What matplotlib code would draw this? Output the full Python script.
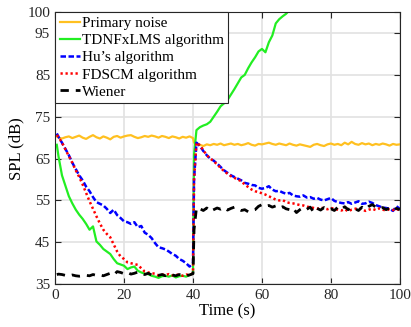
import numpy as np
import matplotlib.pyplot as plt

plt.rcParams['font.family'] = ['Liberation Serif', 'DejaVu Serif']

# time axis: 0.5 s, 1..40 s, a sample just after the path change, 41..100 s
time = np.concatenate([[0.5], np.arange(1, 41), [40.3], np.arange(41, 101)])

primary = [70.3, 70.0, 69.8, 70.1, 70.3, 69.9, 70.2, 70.5, 70.0, 69.7,
           70.2, 70.6, 70.1, 69.8, 70.3, 70.0, 69.6, 70.2, 70.4, 70.0,
           70.3, 70.5, 70.6, 70.2, 69.9, 70.1, 70.4, 70.2, 70.5, 70.3,
           70.0, 70.4, 70.2, 69.9, 70.3, 70.1, 69.8, 70.2, 70.0, 70.3, 69.9,
           68.8,
           68.5, 68.3, 68.0, 68.4, 68.2, 68.5, 68.3, 68.6, 68.2, 68.4,
           68.6, 68.3, 68.5, 68.2, 68.4, 68.7, 68.3, 68.1, 68.5, 68.4,
           68.6, 68.8, 68.5, 68.3, 68.6, 68.4, 68.2, 68.6, 68.3, 68.1,
           68.4, 68.2, 68.0, 67.8, 68.3, 68.5, 68.2, 68.0, 68.4, 68.6,
           68.3, 68.5, 68.2, 68.8, 68.4, 69.0, 68.5, 68.3, 68.7, 68.4,
           68.6, 68.2, 68.5, 68.3, 68.6, 68.4, 68.1, 68.5, 68.3, 68.4]

tdnfxlms = [68.3, 65.5, 61.0, 58.5, 56.0, 54.3, 52.8, 51.6, 50.6, 49.4,
            48.0, 48.8, 45.2, 44.4, 43.4, 42.8, 42.2, 41.0, 40.0, 39.7,
            39.4, 38.6, 39.0, 39.2, 38.2, 37.8, 37.5, 37.4, 37.0, 36.8,
            36.5, 36.9, 37.0, 36.8, 37.1, 36.6, 36.9, 37.0, 36.8, 37.2, 37.6,
            66.0,
            71.8, 72.5, 72.9, 73.2, 73.8, 75.0, 76.2, 77.5, 78.2, 79.0,
            80.3, 81.6, 83.0, 84.4, 85.0, 86.6, 88.0, 89.2, 90.6, 91.2,
            90.4, 92.8, 94.4, 97.3, 98.3, 99.0, 99.6, 100.5] + [np.nan] * 32

hu = [71.0, 70.2, 68.8, 67.3, 65.8, 64.0, 62.5, 61.0, 59.8, 58.3,
      57.2, 55.8, 54.6, 54.2, 53.8, 53.0, 52.0, 52.8, 51.5, 50.8,
      50.0, 49.8, 49.4, 49.8, 48.6, 48.9, 47.3, 46.8, 46.0, 44.8,
      43.8, 43.6, 43.3, 42.8, 42.2, 41.8, 41.0, 40.6, 40.0, 39.2, 40.0,
      60.0,
      68.8, 68.0, 66.8, 65.8, 65.0, 64.5, 63.8, 63.0, 62.2, 61.6,
      61.0, 60.6, 60.2, 59.8, 59.2, 59.0, 58.7, 58.6, 58.0, 57.8,
      58.0, 58.4, 57.6, 57.2, 57.3, 56.9, 56.6, 56.8, 56.2, 56.0,
      55.9, 56.2, 55.7, 55.8, 55.4, 55.6, 55.2, 55.0, 55.3, 55.6,
      54.9, 54.6, 54.4, 54.3, 54.6, 54.2, 54.5, 54.8, 54.2, 54.3,
      54.7, 54.4, 53.9, 53.6, 53.3, 53.2, 53.0, 52.5, 53.6, 53.0]

fdscm = [70.6, 70.2, 68.8, 67.2, 65.6, 64.0, 62.2, 60.6, 58.8, 56.8,
         54.8, 53.0, 51.2, 49.5, 48.0, 47.0, 46.2, 44.5, 42.8, 41.6,
         41.0, 40.2, 40.0, 39.8, 39.6, 38.8, 38.0, 37.8, 37.6, 37.5,
         37.1, 37.3, 37.2, 37.4, 37.1, 37.3, 37.2, 37.0, 37.3, 37.2, 37.6,
         60.0,
         68.8, 68.2, 67.0, 65.8, 65.0, 64.4, 63.6, 62.8, 62.0, 61.4,
         60.8, 60.4, 60.0, 59.6, 58.8, 58.2, 57.6, 57.2, 57.0, 56.7,
         56.4, 56.0, 55.6, 55.2, 55.0, 55.1, 54.6, 54.4, 54.3, 54.1,
         53.9, 53.8, 53.5, 53.4, 53.2, 53.0, 53.3, 53.1, 52.9, 53.2,
         53.0, 52.8, 52.6, 52.9, 52.4, 52.8, 53.0, 53.2, 52.9, 52.5,
         52.8, 53.0, 52.7, 53.1, 52.8, 52.6, 52.9, 52.7, 53.0, 52.6]

wiener = [37.3, 37.4, 37.3, 37.1, 37.0, 37.2, 37.0, 36.9, 37.0, 37.1,
          37.0, 37.3, 37.1, 37.2, 37.0, 37.3, 37.6, 37.2, 38.0, 37.8,
          37.5, 37.8, 37.4, 37.6, 37.9, 37.5, 37.3, 37.6, 37.2, 37.4,
          37.1, 37.3, 37.0, 37.4, 37.2, 37.0, 37.3, 37.1, 37.0, 37.2, 37.5,
          48.0,
          53.2, 53.0, 52.6, 53.2, 52.4, 52.8, 53.2, 52.9, 53.3, 52.7,
          53.1, 53.4, 53.0, 52.6, 52.8, 52.3, 52.6, 52.8, 53.6, 54.0,
          53.6, 53.8, 53.4, 53.7, 53.2, 53.5, 53.0, 52.8, 53.2, 52.1,
          52.8, 53.3, 52.9, 53.4, 52.2, 53.1, 52.7, 53.3, 52.8, 53.0,
          52.6, 53.4, 52.9, 53.5, 52.8, 53.3, 53.0, 52.6, 53.4, 52.9,
          53.6, 54.0, 53.4, 53.0, 53.3, 52.8, 53.2, 52.7, 53.1, 52.8]

fig = plt.figure(figsize=(4.11, 3.27), dpi=100)
ax = fig.add_axes([0.134, 0.131, 0.839, 0.832])

ax.plot(time, primary, color='#FFC020', lw=1.6, label='Primary noise')
ax.plot(time, tdnfxlms, color='#22EE22', lw=1.6, label='TDNFxLMS algorithm')
ax.plot(time, hu, color='#0000FF', lw=1.8, ls=(0, (2.2, 1)), label='Hu\u2019s algorithm')
ax.plot(time, fdscm, color='#FF0000', lw=1.8, ls=(0, (0.9, 1.1)), label='FDSCM algorithm')
ax.plot(time, wiener, color='black', lw=2.0, ls=(0, (3, 2.5)), label='Wiener')

ax.set_xlim(0, 100)
ax.set_ylim(35, 100)
ax.set_xticks([0, 20, 40, 60, 80, 100])
ax.set_yticks([35, 45, 55, 65, 75, 85, 95, 100])
ax.grid(True, color='#e2e2e2', lw=1.2)
ax.set_axisbelow(True)
ax.tick_params(direction='in', top=True, right=True, length=4, labelsize=11, colors='#262626')
for s in ax.spines.values():
    s.set_color('#262626')
ax.set_xlabel('Time (s)', fontsize=12, labelpad=1)
ax.set_ylabel('SPL (dB)', fontsize=12, labelpad=2)

leg = ax.legend(loc='upper left', fontsize=11, borderaxespad=0, handlelength=1.3,
                handletextpad=0.15, labelspacing=0.22, borderpad=0.3,
                fancybox=False, framealpha=1, edgecolor='#262626')
leg.get_frame().set_linewidth(0.8)

fig.savefig('out.png', dpi=100)
